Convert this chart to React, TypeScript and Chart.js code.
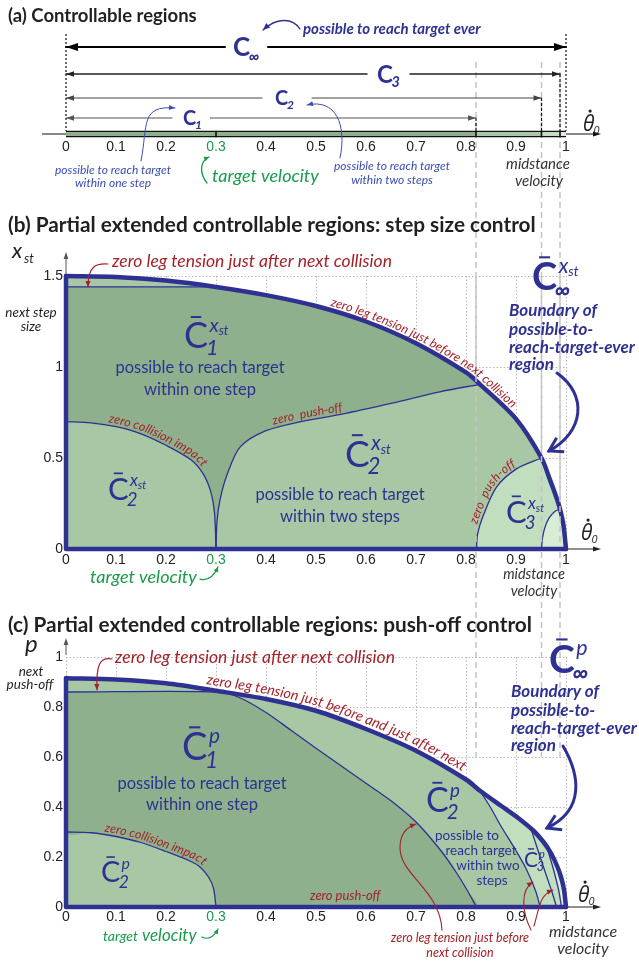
import React, { useEffect, useRef } from "react";
import { Chart, registerables } from "chart.js";

Chart.register(...registerables);

// ---------------- data ----------------
const TARGET_VELOCITY = 0.3;

// (a) controllable regions along the theta-dot_0 axis
const aRegionSub = ["1", "2", "3", "∞"];
const aRegionEnd = [0.82, 0.951, 0.988, 1.0];
const aBarEdges = [0, 0.82, 0.951, 0.988, 1.0];

// (b) step size control (x: theta-dot_0, y: x_st)
const bOuterX = [0, 0.1, 0.2, 0.3, 0.4, 0.5, 0.6, 0.7, 0.8, 0.828, 0.9, 0.951, 0.968, 0.98, 0.988, 0.995, 1];
const bOuterY = [1.5, 1.495, 1.475, 1.44, 1.395, 1.335, 1.25, 1.13, 0.97, 0.905, 0.715, 0.5, 0.38, 0.29, 0.22, 0.13, 0];
const bAfterX = [0, 0.3];
const bAfterY = [1.44, 1.44];
const bImpactX = [0, 0.05, 0.1, 0.15, 0.2, 0.25, 0.275, 0.29, 0.297, 0.3];
const bImpactY = [0.7, 0.693, 0.672, 0.633, 0.57, 0.49, 0.41, 0.31, 0.2, 0];
const bPushX = [0.3, 0.302, 0.308, 0.321, 0.348, 0.4, 0.47, 0.55, 0.65, 0.75, 0.828];
const bPushY = [0, 0.15, 0.27, 0.4, 0.56, 0.65, 0.7, 0.74, 0.8, 0.865, 0.905];
const bC3X = [0.821, 0.823, 0.834, 0.861, 0.901, 0.951];
const bC3Y = [0, 0.08, 0.18, 0.34, 0.44, 0.5];
const bC3pX = [0.951, 0.953, 0.958, 0.966, 0.977, 0.988];
const bC3pY = [0, 0.06, 0.12, 0.17, 0.205, 0.22];

// (c) push-off control (x: theta-dot_0, y: p)
const cOuterX = [0, 0.1, 0.2, 0.3, 0.4, 0.5, 0.6, 0.7, 0.8, 0.828, 0.87, 0.905, 0.935, 0.955, 0.97, 0.982, 0.99, 0.996, 1];
const cOuterY = [0.915, 0.91, 0.895, 0.865, 0.832, 0.785, 0.712, 0.625, 0.51, 0.465, 0.405, 0.355, 0.305, 0.26, 0.215, 0.165, 0.12, 0.07, 0];
const cC1X = [0, 0.31, 0.35, 0.4, 0.45, 0.5, 0.55, 0.6, 0.65, 0.7, 0.75, 0.78, 0.8, 0.821];
const cC1Y = [0.86, 0.86, 0.835, 0.778, 0.707, 0.635, 0.565, 0.495, 0.425, 0.34, 0.225, 0.14, 0.075, 0];
const cImpactX = [0, 0.05, 0.1, 0.15, 0.2, 0.25, 0.268, 0.285, 0.295, 0.3];
const cImpactY = [0.3, 0.297, 0.282, 0.258, 0.222, 0.182, 0.16, 0.12, 0.075, 0];
const cC2X = [0.828, 0.85, 0.868, 0.9, 0.921, 0.94, 0.948];
const cC2Y = [0.465, 0.395, 0.33, 0.225, 0.15, 0.06, 0];
const cC3X = [0.93, 0.945, 0.96, 0.972, 0.981];
const cC3Y = [0.313, 0.22, 0.13, 0.06, 0];
const cC3pX = [0.962, 0.975, 0.985, 0.991];
const cC3pY = [0.239, 0.15, 0.07, 0];

// ---------------- styles ----------------
const NAVY = "#2e3192";
const SOFTBLUE = "#3a4db0";
const RED = "#a3222a";
const GREEN = "#199a4c";
const INK = "#231f20";
const DARK = "rgb(143,176,140)";
const LIGHT = "rgb(168,199,165)";
const PALE = "rgb(193,222,190)";
const PALEST = "rgb(216,237,213)";
const GRID = "#b8b8b8";
const SANS = "Lato, 'DejaVu Sans', sans-serif";
const TICKFONT = "'Liberation Sans', Arial, sans-serif";
const T = 0.3;

// ---------------- helpers ----------------
const P = (xs: number[], ys: number[]) => xs.map((x, i) => ({ x, y: ys[i] }));
const inRange = (a: any[], lo: number, hi: number) => a.filter((p) => p.x >= lo - 1e-9 && p.x <= hi + 1e-9);
const rev = (a: any[]) => a.slice().reverse();

function area(label: string, data: any[], color: string, order: number) {
  return { label, data, fill: "shape", backgroundColor: color, borderColor: "rgba(0,0,0,0)", borderWidth: 0, pointRadius: 0, pointHoverRadius: 0, tension: T, order, clip: false };
}
function stroke(label: string, data: any[], width: number, order: number, tension = T, color = NAVY) {
  return { label, data, fill: false, borderColor: color, borderWidth: width, pointRadius: 0, pointHoverRadius: 0, tension, order, clip: false, borderJoinStyle: "round", borderCapStyle: "round" };
}

function seg(ctx: any, x1: number, y1: number, x2: number, y2: number, color: string, w: number, dash: number[] = []) {
  ctx.save();
  ctx.strokeStyle = color;
  ctx.lineWidth = w;
  ctx.setLineDash(dash);
  ctx.beginPath();
  ctx.moveTo(x1, y1);
  ctx.lineTo(x2, y2);
  ctx.stroke();
  ctx.restore();
}
function txt(ctx: any, s: string, x: number, y: number, font: string, color: string, align: any = "left") {
  ctx.save();
  ctx.font = font;
  ctx.fillStyle = color;
  ctx.textAlign = align;
  ctx.textBaseline = "alphabetic";
  ctx.fillText(s, x, y);
  ctx.restore();
}
function head(ctx: any, x: number, y: number, ang: number, len: number, half: number, color: string, open = false, lw = 1) {
  ctx.save();
  ctx.translate(x, y);
  ctx.rotate(ang);
  ctx.beginPath();
  ctx.moveTo(-len, -half);
  ctx.lineTo(0, 0);
  ctx.lineTo(-len, half);
  if (open) {
    ctx.strokeStyle = color;
    ctx.lineWidth = lw;
    ctx.lineJoin = "miter";
    ctx.stroke();
  } else {
    ctx.closePath();
    ctx.fillStyle = color;
    ctx.fill();
  }
  ctx.restore();
}
function bez(ctx: any, p: number[][], color: string, lw: number, len: number, half: number, open = false) {
  ctx.save();
  ctx.strokeStyle = color;
  ctx.lineWidth = lw;
  ctx.lineCap = "round";
  ctx.beginPath();
  ctx.moveTo(p[0][0], p[0][1]);
  for (let i = 1; i + 2 < p.length; i += 3) ctx.bezierCurveTo(p[i][0], p[i][1], p[i + 1][0], p[i + 1][1], p[i + 2][0], p[i + 2][1]);
  ctx.stroke();
  ctx.restore();
  const e = p[p.length - 1];
  const c = p[p.length - 2];
  head(ctx, e[0], e[1], Math.atan2(e[1] - c[1], e[0] - c[0]), len, half, color, open, lw);
}
function cLabel(ctx: any, x: number, y: number, size: number, o: any) {
  ctx.save();
  const color = o.color || NAVY;
  ctx.fillStyle = color;
  ctx.strokeStyle = color;
  ctx.textAlign = "left";
  ctx.textBaseline = "alphabetic";
  ctx.font = `${o.bold ? "700" : "400"} ${size}px ${SANS}`;
  ctx.fillText("C", x, y);
  const w = ctx.measureText("C").width;
  if (o.bar) {
    ctx.lineWidth = Math.max(1.4, size * 0.055);
    ctx.beginPath();
    ctx.moveTo(x + w * 0.28, y - size * 0.86);
    ctx.lineTo(x + w * 0.72, y - size * 0.86);
    ctx.stroke();
  }
  if (o.sub) {
    ctx.font = `italic ${o.bold ? "700 " : ""}${size * 0.6}px ${SANS}`;
    ctx.fillText(o.sub, x + w - size * 0.06, y + size * 0.2);
  }
  if (o.sup) {
    ctx.font = `italic ${size * 0.55}px ${SANS}`;
    const sx = x + w + size * 0.04;
    ctx.fillText(o.sup, sx, y - size * 0.45);
    const w2 = ctx.measureText(o.sup).width;
    if (o.supSub) {
      ctx.font = `italic ${size * 0.36}px ${SANS}`;
      ctx.fillText(o.supSub, sx + w2, y - size * 0.36);
    }
  }
  ctx.restore();
}
function thetaDot(ctx: any, x: number, y: number, size: number) {
  ctx.save();
  ctx.fillStyle = INK;
  ctx.textAlign = "left";
  ctx.textBaseline = "alphabetic";
  ctx.font = `italic ${size}px 'Open Sans', 'DejaVu Sans', sans-serif`;
  ctx.fillText("θ", x, y);
  const w = ctx.measureText("θ").width;
  ctx.beginPath();
  ctx.arc(x + w * 0.62, y - size * 0.95, size * 0.075, 0, Math.PI * 2);
  ctx.fill();
  ctx.font = `italic ${size * 0.52}px 'Open Sans', sans-serif`;
  ctx.fillText("0", x + w - 1, y + size * 0.15);
  ctx.restore();
}
function smoothPath(chart: any, label: string, samples = 10) {
  const idx = chart.data.datasets.findIndex((d: any) => d.label === label);
  const pts: any[] = chart.getDatasetMeta(idx).data;
  const out: number[][] = [];
  for (let i = 0; i < pts.length; i++) {
    const p = pts[i];
    if (i === 0) {
      out.push([p.x, p.y]);
      continue;
    }
    const q = pts[i - 1];
    const ax = q.x, ay = q.y;
    const bx = q.cp2x ?? q.x, by = q.cp2y ?? q.y;
    const cx = p.cp1x ?? p.x, cy = p.cp1y ?? p.y;
    const dx = p.x, dy = p.y;
    for (let s = 1; s <= samples; s++) {
      const t = s / samples, u = 1 - t;
      out.push([
        u * u * u * ax + 3 * u * u * t * bx + 3 * u * t * t * cx + t * t * t * dx,
        u * u * u * ay + 3 * u * u * t * by + 3 * u * t * t * cy + t * t * t * dy,
      ]);
    }
  }
  return out;
}
function pathText(ctx: any, text: string, path: number[][], start: number, offset: number, font: string, color: string) {
  const cum = [0];
  for (let i = 1; i < path.length; i++) cum.push(cum[i - 1] + Math.hypot(path[i][0] - path[i - 1][0], path[i][1] - path[i - 1][1]));
  ctx.save();
  ctx.font = font;
  ctx.fillStyle = color;
  ctx.textAlign = "center";
  ctx.textBaseline = "alphabetic";
  let d = start;
  for (const ch of text) {
    const w = ctx.measureText(ch).width;
    const m = d + w / 2;
    let i = 1;
    while (i < path.length - 1 && cum[i] < m) i++;
    const L = cum[i] - cum[i - 1] || 1;
    const ux = (path[i][0] - path[i - 1][0]) / L;
    const uy = (path[i][1] - path[i - 1][1]) / L;
    const along = m - cum[i - 1];
    const px = path[i - 1][0] + ux * along + uy * offset;
    const py = path[i - 1][1] + uy * along - ux * offset;
    ctx.save();
    ctx.translate(px, py);
    ctx.rotate(Math.atan2(uy, ux));
    ctx.fillText(ch, 0, 0);
    ctx.restore();
    d += w;
  }
  ctx.restore();
}

const tickLabel = (v: any) => String(Math.round(Number(v) * 10) / 10);

function xScale(pad: number, grid: boolean) {
  return {
    type: "linear",
    min: 0,
    max: 1,
    afterFit: (s: any) => {
      s.height = 25;
    },
    border: { display: false, dash: [1.5, 2] },
    grid: { display: grid, drawTicks: false, color: GRID, lineWidth: 1 },
    ticks: {
      stepSize: 0.1,
      autoSkip: false,
      maxRotation: 0,
      padding: pad,
      font: { family: TICKFONT, size: 14 },
      color: (c: any) => (Math.abs(c.tick.value - TARGET_VELOCITY) < 1e-6 ? GREEN : "#222"),
      callback: tickLabel,
    },
  };
}
function yScale(max: number, step: number) {
  return {
    type: "linear",
    min: 0,
    max,
    afterFit: (s: any) => {
      s.width = 40;
    },
    border: { display: false, dash: [1.5, 2] },
    grid: { drawTicks: false, color: GRID, lineWidth: 1 },
    ticks: { stepSize: step, padding: 3, font: { family: TICKFONT, size: 14 }, color: "#222", callback: tickLabel },
  };
}
function baseOptions(padding: any, scales: any) {
  return {
    responsive: false,
    devicePixelRatio: 1,
    animation: false,
    events: [],
    layout: { padding },
    plugins: { legend: { display: false }, tooltip: { enabled: false } },
    scales,
  };
}

// ---------------- panel (a) ----------------
function configA(): any {
  const levels = [0.8, 1.8, 3.0, 4.35];
  const gapFrom = [0.212, 0.392, 0.602, 0.318];
  const gapTo = [0.288, 0.492, 0.688, 0.404];
  const arrowColor = ["#555", "#444", "#222", "#000"];
  const arrowWidth = [1, 1.1, 1.6, 2];
  const barColors = [DARK, LIGHT, PALE, PALEST];
  const arrows = aRegionEnd.map((end, i) =>
    stroke(
      "arrow" + i,
      [
        { x: 0, y: levels[i] },
        { x: gapFrom[i], y: levels[i] },
        { x: (gapFrom[i] + gapTo[i]) / 2, y: null },
        { x: gapTo[i], y: levels[i] },
        { x: end, y: levels[i] },
      ],
      arrowWidth[i],
      2,
      0,
      arrowColor[i]
    )
  );
  const outline = { ...stroke("bar", [{ x: 0, y: 0 }, { x: 1, y: 0 }], 6.5, 1, 0, "#111"), borderCapStyle: "butt" };
  const segs = aBarEdges.slice(0, -1).map((x0, i) => ({
    ...stroke("seg" + i, [{ x: x0, y: 0 }, { x: aBarEdges[i + 1], y: 0 }], 4, 0, 0, barColors[i]),
    borderCapStyle: "butt",
  }));

  const plugin = {
    id: "aNotes",
    beforeDatasetsDraw(chart: any) {
      const ctx = chart.ctx;
      const X = (v: number) => chart.scales.x.getPixelForValue(v);
      const Y = (v: number) => chart.scales.y.getPixelForValue(v);
      const base = Y(0);
      seg(ctx, 42, base, 596, base, "#111", 1);
      head(ctx, 601, base, 0, 8, 2.6, "#111");
      for (const v of aRegionEnd.slice(0, 3)) seg(ctx, X(v), 62, X(v), 757, "#c4c4c4", 1.5, [6, 4]);
      for (const v of [0, 1]) seg(ctx, X(v), Y(5), X(v), base - 3, "#111", 1.2, [2, 2]);
      aRegionEnd.slice(0, 3).forEach((e, i) => seg(ctx, X(e), Y(levels[i]), X(e), base - 3, "#111", 1.2, [3, 2]));
    },
    afterDraw(chart: any) {
      const ctx = chart.ctx;
      const X = (v: number) => chart.scales.x.getPixelForValue(v);
      const Y = (v: number) => chart.scales.y.getPixelForValue(v);
      const base = Y(0);
      aRegionEnd.forEach((e, i) => {
        const big = i === 3;
        head(ctx, X(0), Y(levels[i]), Math.PI, big ? 12 : 8, big ? 4 : 2.8, arrowColor[i]);
        head(ctx, X(e), Y(levels[i]), 0, big ? 12 : 8, big ? 4 : 2.8, arrowColor[i]);
      });
      for (const v of [TARGET_VELOCITY, ...aRegionEnd.slice(0, 3)]) seg(ctx, X(v), base - 3.2, X(v), base + 3.2, "#111", 1.6);
      const lx = [0.234, 0.418, 0.622, 0.334];
      const ls = [20, 20, 24, 26];
      aRegionSub.forEach((s, i) => cLabel(ctx, X(lx[i]), Y(levels[i]) + ls[i] * 0.36, ls[i], { sub: s, bold: true }));
      txt(ctx, "(a) Controllable regions", 8, 22, `700 18.5px ${SANS}`, INK);
      txt(ctx, "possible to reach target ever", 303, 34, `italic 700 15px ${SANS}`, NAVY);
      bez(ctx, [[300, 29], [292, 17], [276, 18], [263, 30]], NAVY, 1.3, 7, 3);
      txt(ctx, "possible to reach target", 113, 174, `italic 12px ${SANS}`, SOFTBLUE, "center");
      txt(ctx, "within one step", 113, 187, `italic 12px ${SANS}`, SOFTBLUE, "center");
      bez(ctx, [[141, 161], [148, 125], [140, 105], [175, 108]], SOFTBLUE, 1, 6, 2.5);
      txt(ctx, "possible to reach target", 392, 170, `italic 12px ${SANS}`, SOFTBLUE, "center");
      txt(ctx, "within two steps", 392, 184, `italic 12px ${SANS}`, SOFTBLUE, "center");
      bez(ctx, [[340, 158], [347, 125], [336, 98], [307, 105]], SOFTBLUE, 1, 6, 2.5);
      txt(ctx, "target velocity", 212, 182, `italic 18px ${SANS}`, GREEN);
      bez(ctx, [[207, 183], [199, 173], [200, 161], [209, 157]], GREEN, 1.3, 5, 2.5);
      txt(ctx, "midstance", 538, 169, `italic 15px ${SANS}`, "#333", "center");
      txt(ctx, "velocity", 539, 186, `italic 15px ${SANS}`, "#333", "center");
      thetaDot(ctx, 583, 131, 21);
    },
  };

  return {
    type: "line",
    data: { datasets: [...segs, outline, ...arrows] },
    options: baseOptions(
      { left: 66, right: 73, top: 34, bottom: 965 - 134 - 25 },
      {
        x: { ...xScale(5, false) },
        y: { type: "linear", min: 0, max: 5, display: false },
      }
    ),
    plugins: [plugin],
  };
}

// ---------------- panel (b) ----------------
function configB(): any {
  const outer = P(bOuterX, bOuterY);
  const datasets = [
    stroke("outer", outer, 4.5, 0),
    stroke("edges", [{ x: 0, y: bOuterY[0] }, { x: 0, y: 0 }, { x: 1, y: 0 }], 4.5, 0, 0),
    stroke("after", P(bAfterX, bAfterY), 1.3, 1, 0),
    stroke("impact", P(bImpactX, bImpactY), 1.3, 1),
    stroke("push", P(bPushX, bPushY), 1.3, 1),
    stroke("c3", P(bC3X, bC3Y), 1.3, 1),
    stroke("c3p", P(bC3pX, bC3pY), 1.3, 1),
    area(
      "c1area",
      [
        ...P(bAfterX, bAfterY),
        ...inRange(outer, bAfterX[1], bPushX[bPushX.length - 1]),
        ...rev(P(bPushX, bPushY)),
        ...rev(P(bImpactX, bImpactY)),
        { x: 0, y: bImpactY[0] },
        { x: 0, y: bAfterY[0] },
      ],
      DARK,
      2
    ),
    area("palest", [...P(bC3pX, bC3pY), ...inRange(outer, bC3pX[bC3pX.length - 1], 1), { x: 1, y: 0 }, { x: bC3pX[0], y: 0 }], PALEST, 3),
    area("pale", [...P(bC3X, bC3Y), ...inRange(outer, bC3X[bC3X.length - 1], 1), { x: 1, y: 0 }, { x: bC3X[0], y: 0 }], PALE, 4),
    area("base", [{ x: 0, y: 0 }, { x: 0, y: bOuterY[0] }, ...outer, { x: 1, y: 0 }], LIGHT, 5),
  ];

  const plugin = {
    id: "bNotes",
    afterDatasetsDraw(chart: any) {
      const ctx = chart.ctx;
      const ca = chart.chartArea;
      const X = (v: number) => chart.scales.x.getPixelForValue(v);
      ctx.save();
      ctx.beginPath();
      ctx.rect(ca.left, ca.top, ca.width, ca.height - 3);
      ctx.clip();
      for (const v of aRegionEnd.slice(0, 3)) seg(ctx, X(v), ca.top, X(v), ca.bottom, "#c4c4c4", 1.5, [6, 4]);
      ctx.restore();
    },
    afterDraw(chart: any) {
      const ctx = chart.ctx;
      const ca = chart.chartArea;
      const X = (v: number) => chart.scales.x.getPixelForValue(v);
      const Y = (v: number) => chart.scales.y.getPixelForValue(v);
      seg(ctx, X(0), ca.top - 2, X(0), 256, "#555", 1);
      head(ctx, X(0), 252, -Math.PI / 2, 7, 2.4, "#555");
      seg(ctx, X(1) + 2, Y(0), 596, Y(0), "#222", 1);
      head(ctx, 601, Y(0), 0, 8, 2.6, "#222");

      txt(ctx, "(b) Partial extended controllable regions: step size control", 8, 232, `700 20.8px ${SANS}`, INK);
      txt(ctx, "x", 12, 258, `italic 22px ${SANS}`, INK);
      txt(ctx, "st", 24, 263, `italic 13px ${SANS}`, INK);
      txt(ctx, "next step", 31, 317, `italic 13.5px ${SANS}`, INK, "center");
      txt(ctx, "size", 31, 331, `italic 13.5px ${SANS}`, INK, "center");

      txt(ctx, "zero leg tension just after next collision", 112, 267, `italic 17.5px ${SANS}`, RED);
      bez(ctx, [[108, 264], [96, 263], [88, 266], [88, 287]], RED, 1.2, 6, 2.6);

      pathText(ctx, "zero leg tension just before next collision", smoothPath(chart, "outer"), 266, 4, `italic 12.5px ${SANS}`, RED);
      pathText(ctx, "zero collision impact", smoothPath(chart, "impact"), 42, 3, `italic 12.3px ${SANS}`, RED);
      pathText(ctx, "zero  push-off", smoothPath(chart, "push"), 146, 3, `italic 12.3px ${SANS}`, RED);
      pathText(ctx, "zero  push-off", smoothPath(chart, "c3"), 24, 3, `italic 12.3px ${SANS}`, RED);

      cLabel(ctx, 184, 348, 36, { bar: true, sub: "1", sup: "x", supSub: "st" });
      txt(ctx, "possible to reach target", 200, 373, `16.5px ${SANS}`, NAVY, "center");
      txt(ctx, "within one step", 200, 395, `16.5px ${SANS}`, NAVY, "center");

      cLabel(ctx, 108, 500, 31, { bar: true, sub: "2", sup: "x", supSub: "st" });
      cLabel(ctx, 345, 467, 37, { bar: true, sub: "2", sup: "x", supSub: "st" });
      txt(ctx, "possible to reach target", 340, 500, `16.5px ${SANS}`, NAVY, "center");
      txt(ctx, "within two steps", 340, 522, `16.5px ${SANS}`, NAVY, "center");
      cLabel(ctx, 506, 523, 31, { bar: true, sub: "3", sup: "x", supSub: "st" });

      cLabel(ctx, 532, 290, 38, { bar: true, bold: true, sub: "∞", sup: "x", supSub: "st" });
      const bf = `italic 700 17px ${SANS}`;
      txt(ctx, "Boundary of", 509, 316, bf, NAVY);
      txt(ctx, "possible-to-", 509, 335, bf, NAVY);
      txt(ctx, "reach-target-ever", 509, 353, bf, NAVY);
      txt(ctx, "region", 509, 370, bf, NAVY);
      bez(ctx, [[557, 373], [588, 395], [584, 432], [549, 451]], NAVY, 3, 13, 8, true);

      thetaDot(ctx, 581, 540, 21);
      txt(ctx, "midstance", 534, 579, `italic 14.5px ${SANS}`, "#333", "center");
      txt(ctx, "velocity", 534, 596, `italic 14.5px ${SANS}`, "#333", "center");
      txt(ctx, "target velocity", 90, 583, `italic 18px ${SANS}`, GREEN);
      bez(ctx, [[200, 579], [207, 581], [213, 578], [218, 567]], GREEN, 1.3, 5, 2.5);
    },
  };

  return {
    type: "line",
    data: { datasets },
    options: baseOptions({ left: 26, right: 73, top: 276, bottom: 965 - 549 - 25 }, { x: xScale(3, true), y: yScale(1.5, 0.5) }),
    plugins: [plugin],
  };
}

// ---------------- panel (c) ----------------
function configC(): any {
  const outer = P(cOuterX, cOuterY);
  const datasets = [
    stroke("outer", outer, 4.5, 0),
    stroke("edges", [{ x: 0, y: cOuterY[0] }, { x: 0, y: 0 }, { x: 1, y: 0 }], 4.5, 0, 0),
    stroke("c1", P(cC1X, cC1Y), 1.3, 1),
    stroke("impact", P(cImpactX, cImpactY), 1.3, 1),
    stroke("c2", P(cC2X, cC2Y), 1.3, 1),
    stroke("c3", P(cC3X, cC3Y), 1.3, 1),
    stroke("c3p", P(cC3pX, cC3pY), 1.3, 1),
    area(
      "c1area",
      [
        ...P(cC1X, cC1Y),
        { x: cImpactX[cImpactX.length - 1], y: 0 },
        ...rev(P(cImpactX, cImpactY)),
        { x: 0, y: cC1Y[0] },
      ],
      DARK,
      2
    ),
    area("palest", [...P(cC3pX, cC3pY), { x: 1, y: 0 }, ...rev(inRange(outer, cC3pX[0], 1))], PALEST, 3),
    area("pale", [...P(cC2X, cC2Y), { x: 1, y: 0 }, ...rev(inRange(outer, cC2X[0], 1))], PALE, 4),
    area("base", [{ x: 0, y: 0 }, { x: 0, y: cOuterY[0] }, ...outer, { x: 1, y: 0 }], LIGHT, 5),
  ];

  const plugin = {
    id: "cNotes",
    afterDraw(chart: any) {
      const ctx = chart.ctx;
      const ca = chart.chartArea;
      const X = (v: number) => chart.scales.x.getPixelForValue(v);
      const Y = (v: number) => chart.scales.y.getPixelForValue(v);
      seg(ctx, X(0), ca.top - 2, X(0), 642, "#555", 1);
      head(ctx, X(0), 638, -Math.PI / 2, 7, 2.4, "#555");
      seg(ctx, X(1) + 2, Y(0), 596, Y(0), "#222", 1);
      head(ctx, 601, Y(0), 0, 8, 2.6, "#222");

      txt(ctx, "(c) Partial extended controllable regions: push-off control", 8, 632, `700 20.8px ${SANS}`, INK);
      txt(ctx, "p", 25, 652, `italic 24px ${SANS}`, INK);
      txt(ctx, "next", 31, 676, `italic 13.5px ${SANS}`, INK, "center");
      txt(ctx, "push-off", 30, 689, `italic 13.5px ${SANS}`, INK, "center");

      txt(ctx, "zero leg tension just after next collision", 115, 663, `italic 17.5px ${SANS}`, RED);
      bez(ctx, [[112, 659], [100, 657], [96, 664], [97, 690]], RED, 1.2, 6, 2.6);

      pathText(ctx, "zero leg tension just before and just after next", smoothPath(chart, "outer"), 140, 5, `italic 14.3px ${SANS}`, RED);
      pathText(ctx, "zero collision impact", smoothPath(chart, "impact"), 38, 3, `italic 12.3px ${SANS}`, RED);
      txt(ctx, "zero push-off", 310, 900, `italic 13px ${SANS}`, RED);

      cLabel(ctx, 182, 760, 38, { bar: true, sub: "1", sup: "p" });
      txt(ctx, "possible to reach target", 202, 789, `16.5px ${SANS}`, NAVY, "center");
      txt(ctx, "within one step", 202, 810, `16.5px ${SANS}`, NAVY, "center");
      cLabel(ctx, 101, 882, 29, { bar: true, sub: "2", sup: "p" });
      cLabel(ctx, 426, 812, 34, { bar: true, sub: "2", sup: "p" });
      const sf = `13.5px ${SANS}`;
      txt(ctx, "possible to", 467, 840, sf, NAVY, "center");
      txt(ctx, "reach target", 481, 855, sf, NAVY, "center");
      txt(ctx, "within two", 488, 870, sf, NAVY, "center");
      txt(ctx, "steps", 492, 885, sf, NAVY, "center");
      cLabel(ctx, 524, 867, 21, { bar: true, sub: "3", sup: "p" });

      cLabel(ctx, 549, 673, 39, { bar: true, bold: true, sub: "∞", sup: "p" });
      const bf = `italic 700 17px ${SANS}`;
      txt(ctx, "Boundary of", 511, 697, bf, NAVY);
      txt(ctx, "possible-to-", 511, 716, bf, NAVY);
      txt(ctx, "reach-target-ever", 511, 734, bf, NAVY);
      txt(ctx, "region", 511, 751, bf, NAVY);
      bez(ctx, [[563, 746], [580, 775], [585, 810], [547, 828]], NAVY, 3, 13, 8, true);

      thetaDot(ctx, 578, 902, 21);
      txt(ctx, "midstance", 583, 937, `italic 16px ${SANS}`, "#333", "center");
      txt(ctx, "velocity", 583, 954, `italic 16px ${SANS}`, "#333", "center");

      txt(ctx, "target", 103, 941, `italic 14px ${SANS}`, GREEN);
      txt(ctx, "velocity", 142, 941, `italic 17px ${SANS}`, GREEN);
      bez(ctx, [[202, 937], [208, 940], [214, 937], [218, 929]], GREEN, 1.3, 5, 2.5);

      txt(ctx, "zero leg tension just before", 460, 942, `italic 12.5px ${SANS}`, RED, "center");
      txt(ctx, "next collision", 460, 957, `italic 12.5px ${SANS}`, RED, "center");
      bez(ctx, [[442, 930], [440, 890], [400, 875], [400, 848], [400, 835], [405, 828], [416, 824]], RED, 1.1, 6, 2.6);
      bez(ctx, [[531, 930], [522, 912], [520, 890], [533, 882]], RED, 1.1, 6, 2.6);
      bez(ctx, [[534, 926], [540, 905], [540, 895], [553, 890]], RED, 1.1, 6, 2.6);
    },
  };

  return {
    type: "line",
    data: { datasets },
    options: baseOptions({ left: 26, right: 73, top: 657, bottom: 965 - 907 - 25 }, { x: xScale(2, true), y: yScale(1, 0.2) }),
    plugins: [plugin],
  };
}

export default function App() {
  const aRef = useRef<HTMLCanvasElement>(null);
  const bRef = useRef<HTMLCanvasElement>(null);
  const cRef = useRef<HTMLCanvasElement>(null);
  useEffect(() => {
    const charts = [new Chart(aRef.current as any, configA()), new Chart(bRef.current as any, configB()), new Chart(cRef.current as any, configC())];
    return () => charts.forEach((c) => c.destroy());
  }, []);
  const cs: any = { position: "absolute", left: 0, top: 0 };
  return (
    <div style={{ position: "absolute", left: 0, top: 0, width: 639, height: 965, background: "#fff", overflow: "hidden" }}>
      <canvas ref={aRef} width={639} height={965} style={cs} />
      <canvas ref={bRef} width={639} height={965} style={cs} />
      <canvas ref={cRef} width={639} height={965} style={cs} />
    </div>
  );
}
